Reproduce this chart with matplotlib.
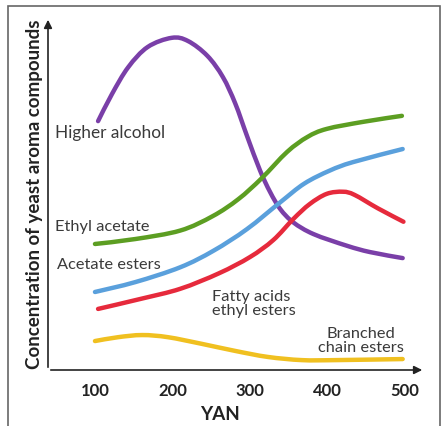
"""YAN vs concentration of yeast aroma compounds (schematic)."""
import matplotlib
matplotlib.use("Agg")
import matplotlib.pyplot as plt
from matplotlib.patches import Rectangle, PathPatch
from matplotlib.path import Path

# values (arbitrary concentration units, 0-100)
alc_x = [104, 122, 143, 168, 199, 220, 245, 265, 281, 296, 313, 326, 339, 356, 382, 425, 455, 497]
alc_y = [70.5, 78.2, 85.8, 91.5, 94.1, 93.2, 89.0, 83.0, 75.5, 66.4, 56.5, 50.4, 45.6, 41.8, 38.5, 35.2, 33.4, 31.7]

ethyl_x = [100, 152, 210, 252, 285, 315, 348, 374, 399, 446, 496]
ethyl_y = [35.7, 37.1, 39.5, 43.6, 48.4, 54.3, 61.8, 66.0, 68.3, 70.3, 72.0]

acet_x = [100, 152, 210, 253, 296, 339, 370, 403, 433, 497]
acet_y = [22.1, 24.9, 29.1, 33.8, 39.9, 47.5, 52.8, 56.5, 58.9, 62.6]

fatty_x = [104, 160, 210, 260, 300, 330, 356, 377, 399, 420, 435, 465, 498]
fatty_y = [17.3, 20.2, 23.0, 27.4, 32.0, 36.8, 42.8, 47.0, 49.9, 50.5, 49.6, 45.8, 42.0]

branch_x = [100, 130, 161, 194, 238, 281, 323, 367, 410, 497]
branch_y = [8.2, 9.3, 9.9, 9.3, 7.4, 5.4, 3.7, 2.8, 2.8, 3.1]

xticks = [100, 200, 300, 400, 500]


def smooth_path(xs, ys):
    # Catmull-Rom through the read points, drawn as cubic bezier segments
    pts = list(zip(xs, ys))
    verts = [pts[0]]
    codes = [Path.MOVETO]
    for i in range(len(pts) - 1):
        p0 = pts[i - 1] if i > 0 else pts[i]
        p1 = pts[i]
        p2 = pts[i + 1]
        p3 = pts[i + 2] if i + 2 < len(pts) else pts[i + 1]
        c1 = (p1[0] + (p2[0] - p0[0]) / 6, p1[1] + (p2[1] - p0[1]) / 6)
        c2 = (p2[0] - (p3[0] - p1[0]) / 6, p2[1] - (p3[1] - p1[1]) / 6)
        verts += [c1, c2, p2]
        codes += [Path.CURVE4] * 3
    return Path(verts, codes)


fig = plt.figure(figsize=(4.42, 4.27), dpi=100)
fig.patch.set_facecolor("white")
ax = fig.add_axes([48 / 442, 56 / 427, 377 / 442, 353 / 427])
ax.set_xlim(39.4, 525.8)
ax.set_ylim(0, 100)
ax.set_facecolor("white")

# outer frame
fig.patches.append(Rectangle((8 / 442, -0.01), 432 / 442, 1.01 - 7 / 427,
                             transform=fig.transFigure, fill=False,
                             edgecolor="#666666", linewidth=1.2))

series = [
    (alc_x, alc_y, "#7a3fa8"),
    (ethyl_x, ethyl_y, "#5c9e22"),
    (acet_x, acet_y, "#5aa0dc"),
    (fatty_x, fatty_y, "#e62a3c"),
    (branch_x, branch_y, "#f0c020"),
]
for xs, ys, col in series:
    ax.add_patch(PathPatch(smooth_path(xs, ys), facecolor="none", edgecolor=col,
                           lw=3.2, capstyle="round", joinstyle="round"))

txt = dict(fontsize=11.8, color="#3a3a3a", family="Lato")
ax.text(48, 67.4, "Higher alcohol", va="center", ha="left",
        fontsize=12.4, color="#3a3a3a", family="Lato")
ax.text(48, 40.8, "Ethyl acetate", va="center", ha="left", **txt)
ax.text(51, 30.0, "Acetate esters", va="center", ha="left", **txt)
ax.text(251, 19.0, "Fatty acids\nethyl esters", va="center", ha="left",
        linespacing=0.95, **txt)
ax.text(443, 8.5, "Branched\nchain esters", va="center", ha="center",
        linespacing=0.95, **txt)

# axes with arrowheads
for s in ax.spines.values():
    s.set_visible(False)
ax.annotate("", xy=(1.0, 0), xytext=(0, 0), xycoords="axes fraction",
            arrowprops=dict(arrowstyle="-|>", color="#222222", lw=1.2,
                            mutation_scale=12))
ax.annotate("", xy=(0, 1.0), xytext=(0, 0), xycoords="axes fraction",
            arrowprops=dict(arrowstyle="-|>", color="#222222", lw=1.2,
                            mutation_scale=12))

ax.set_xticks(xticks)
ax.set_xticklabels([str(v) for v in xticks], fontsize=12, fontweight="bold",
                   family="Lato", color="#222222")
ax.tick_params(axis="x", length=0, pad=9)
ax.set_yticks([])
ax.set_xlabel("YAN", fontsize=13.5, fontweight="bold", family="Lato",
              color="#222222")
ax.xaxis.set_label_coords(0.455, -0.1)
ax.set_ylabel("Concentration of yeast aroma compounds", fontsize=13.5,
              fontweight="bold", family="Lato", color="#222222")
ax.yaxis.set_label_coords(-0.012, 0.5)

plt.savefig("out.png", dpi=100, facecolor="white")
plt.close()
